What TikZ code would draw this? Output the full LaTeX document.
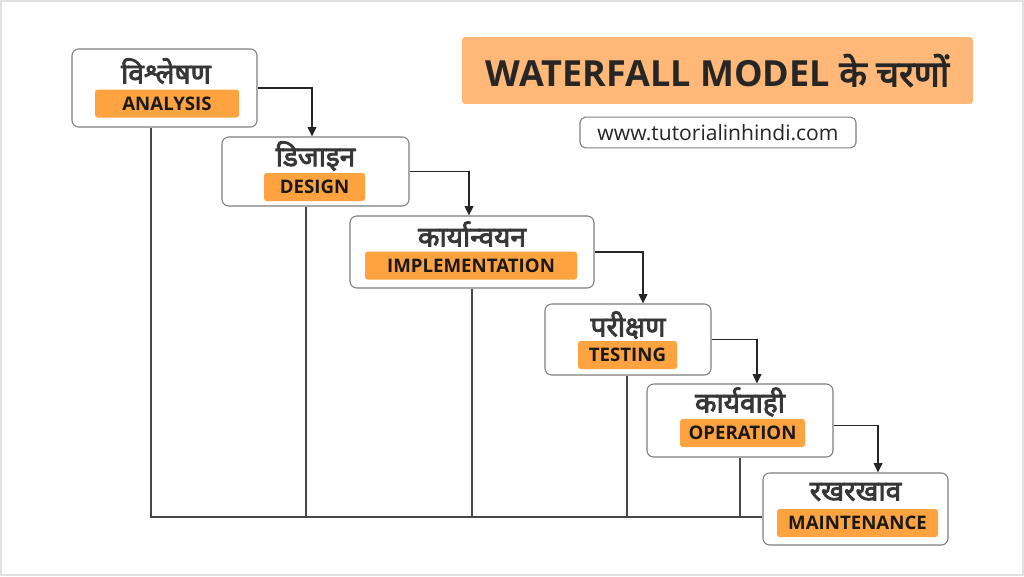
\documentclass[tikz,border=0pt]{standalone}
\usepackage{fontspec}
\setmainfont{Noto Sans}[Script=Devanagari, BoldFont={Noto Sans}, BoldFeatures={FakeBold=3}]
\newfontfamily\tagfont{Open Sans}
\usetikzlibrary{positioning,calc,arrows.meta}
\definecolor{TagOrange}{RGB}{255,163,64}
\definecolor{TitleOrange}{RGB}{255,184,120}
\definecolor{BoxLine}{RGB}{125,125,125}
\definecolor{InkGray}{RGB}{55,55,55}
\definecolor{LineGray}{RGB}{70,70,70}

\begin{document}
\begin{tikzpicture}[x=0.75pt,y=-0.75pt,
    stagebox/.style={draw=BoxLine, rounded corners=5pt, fill=white, line width=0.8pt, inner sep=0pt},
    hinditext/.style={font=\bfseries\fontsize{21}{24}\selectfont, text=InkGray, inner sep=0pt},
    tag/.style={fill=TagOrange, rounded corners=2pt, font=\tagfont\bfseries\fontsize{14}{16}\selectfont, text=black!90, minimum height=21pt, inner sep=0pt},
    flow/.style={draw=black!85, line width=1.1pt, -{Triangle[length=7pt,width=6.5pt]}},
    link/.style={draw=LineGray, line width=1.1pt}]
    \useasboundingbox (0,0) rectangle (1024,576);
    \draw[black!12, line width=1pt] (1,1) rectangle (1023,575);

    % title and site
    \node[fill=TitleOrange, rounded corners=2pt, minimum width=383pt, minimum height=50pt, font=\fontsize{27}{30}\selectfont, text=black!85] (title) at (717.5,70.5) {{\tagfont\bfseries WATERFALL MODEL} {\bfseries के चरणों}};
    \node[draw=BoxLine, fill=white, rounded corners=4pt, line width=0.8pt, minimum width=207pt, minimum height=23pt, font=\tagfont\fontsize{15.8}{18}\selectfont, text=black!85] (site) at (718,132.5) {www.tutorialinhindi.com};

    % stages
    \node[stagebox, minimum width=138.75pt, minimum height=58.5pt] (an) at (164.5,88) {};
    \node[hinditext] (anhi) at (166,71) {विश्लेषण};
    \node[tag, minimum width=108pt] (antag) at (167,103.5) {ANALYSIS};

    \node[stagebox, minimum width=140.25pt, minimum height=51.75pt] (de) at (315.5,171.5) {};
    \node[hinditext] (dehi) at (315.5,156) {डिजाइन};
    \node[tag, minimum width=75.75pt] (detag) at (314.5,187) {DESIGN};

    \node[stagebox, minimum width=183pt, minimum height=54pt] (im) at (472,252) {};
    \node[hinditext] (imhi) at (472,234) {कार्यान्वयन};
    \node[tag, minimum width=159pt] (imtag) at (471,265.5) {IMPLEMENTATION};

    \node[stagebox, minimum width=124.5pt, minimum height=53.25pt] (te) at (628,339.5) {};
    \node[hinditext] (tehi) at (628,325) {परीक्षण};
    \node[tag, minimum width=74.25pt] (tetag) at (627.5,355) {TESTING};

    \node[stagebox, minimum width=139.5pt, minimum height=54.75pt] (op) at (740,420.5) {};
    \node[hinditext] (ophi) at (740,402) {कार्यवाही};
    \node[tag, minimum width=93.75pt] (optag) at (742.5,433) {OPERATION};

    \node[stagebox, minimum width=138.75pt, minimum height=54pt] (mt) at (855.5,509) {};
    \node[hinditext] (mthi) at (855.5,492) {रखरखाव};
    \node[tag, minimum width=120.75pt] (mttag) at (857.5,523) {MAINTENANCE};

    % steps down
    \draw[flow] (an.east) -| ($(de.north)+(-3.5,0)$);
    \draw[flow] (de.east) -| ($(im.north)+(-3,0)$);
    \draw[flow] (im.east) -| ($(te.north)+(15,0)$);
    \draw[flow] (te.east) -| ($(op.north)+(17,0)$);
    \draw[flow] ($(op.east)+(0,5)$) -| ($(mt.north)+(22.5,0)$);

    % return lines
    \coordinate (base) at (0,517);
    \draw[link] ($(an.south)+(-13.5,0)$) |- (mt.west |- base);
    \draw[link] ($(de.south)+(-9.5,0)$) coordinate (dd) -- (dd |- base);
    \draw[link] (im.south) -- (im.south |- base);
    \draw[link] ($(te.south)+(-1,0)$) coordinate (td) -- (td |- base);
    \draw[link] (op.south) -- (op.south |- base);
  \end{tikzpicture}
\end{document}
